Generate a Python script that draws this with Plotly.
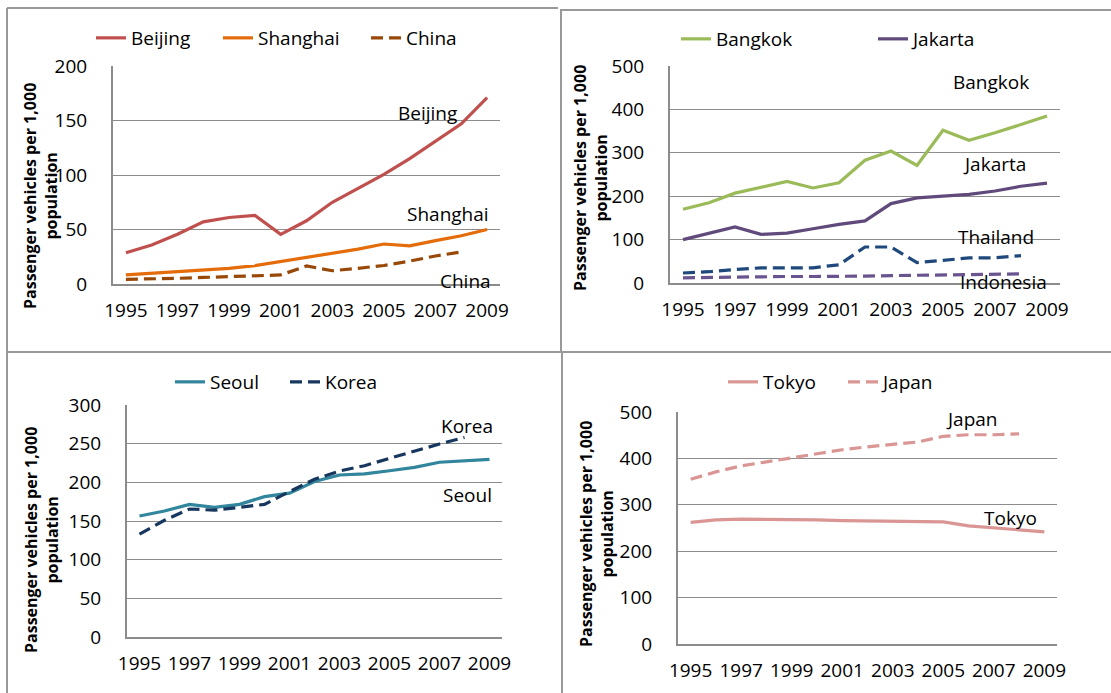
import plotly.graph_objects as go

W, H = 1111, 693

years = list(range(1995, 2010))
years_nat = list(range(1995, 2009))

beijing = [28.7, 35.8, 45.6, 57, 61, 63, 45.5, 58, 75, 88, 100.6, 115, 130.6, 147, 171]
shanghai = [8.3, 9.8, 11.3, 12.8, 14.4, 16.8, 20.5, 24, 28, 32, 36.7, 35, 39.8, 44.3, 50]
china = [4.3, 4.6, 5.2, 6, 6.7, 7.3, 8.3, 16.5, 12.2, 14.4, 17, 21, 25.7, 29.4]

bangkok = [170, 185, 207, 220, 234, 219, 231, 283, 304, 271, 352, 329, 346, 365, 385]
jakarta = [100, 114, 129, 112, 115, 125, 135, 143, 183, 196, 200, 204, 212, 223, 230]
thailand = [23, 26, 31, 35, 35, 35, 42, 83, 83, 47, 52, 58, 58, 63]
indonesia = [12, 13, 14, 15, 15, 15, 15, 16, 17, 18, 19, 20, 21, 21]

seoul = [156.5, 163, 171.5, 167.7, 171.5, 181.5, 186, 201, 209.5, 211, 215, 219.4, 226, 228, 229.7]
korea = [133, 151, 165.5, 164, 167.7, 171.5, 188, 204, 214.6, 221.5, 231, 240.5, 249.6, 258]

tokyo = [262, 267.6, 269, 269, 268, 267.6, 266, 265.4, 264.7, 264, 263, 254.7, 250, 245, 241.7]
japan = [355, 371, 384, 392, 401, 410, 418.7, 425, 429.4, 435.4, 447.6, 451, 451, 453]

x_ticks = [1995, 1997, 1999, 2001, 2003, 2005, 2007, 2009]
y_title = "Passenger vehicles per 1,000<br>population"

FONT = "Open Sans"
GRID = "#8c8c8c"


def px(x, y):
    return x / W, 1 - y / H


fig = go.Figure()

# (axis suffix, x-domain px, y-domain px (top, bottom), y max, dtick)
panels = [
    ("", (113, 500), (66, 284), 200, 50),
    ("2", (670, 1060), (66, 283), 500, 100),
    ("3", (127, 502), (405, 637), 300, 50),
    ("4", (678, 1057), (412, 644), 500, 100),
]

# series: (panel index, name, x, y, color, dash, legend id)
series = [
    (0, "Beijing", years, beijing, "#C0504D", "solid", "legend"),
    (0, "Shanghai", years, shanghai, "#E46C0A", "solid", "legend2"),
    (0, "China", years_nat, china, "#984807", "12px,6px", "legend3"),
    (1, "Bangkok", years, bangkok, "#9BBB59", "solid", "legend4"),
    (1, "Jakarta", years, jakarta, "#604A7B", "solid", "legend5"),
    (1, "Thailand", years_nat, thailand, "#1F497D", "12px,6px", None),
    (1, "Indonesia", years_nat, indonesia, "#6A5490", "12px,6px", None),
    (2, "Seoul", years, seoul, "#31859C", "solid", "legend6"),
    (2, "Korea", years_nat, korea, "#17375E", "12px,6px", "legend7"),
    (3, "Tokyo", years, tokyo, "#D99694", "solid", "legend8"),
    (3, "Japan", years_nat, japan, "#D99694", "12px,6px", "legend9"),
]

for pi, name, xs, ys, col, dash, leg in series:
    suf = panels[pi][0]
    fig.add_trace(go.Scatter(
        x=xs, y=ys, name=name, mode="lines",
        line=dict(color=col, width=3.2, dash=dash),
        xaxis="x" + suf, yaxis="y" + suf,
        showlegend=leg is not None,
        legend=leg if leg else "legend",
    ))

layout = dict(
    width=W, height=H,
    margin=dict(l=0, r=0, t=0, b=0, pad=0, autoexpand=False),
    paper_bgcolor="white", plot_bgcolor="white",
    font=dict(family=FONT, size=18, color="#000000"),
)

for suf, (x0, x1), (ytop, ybot), ymax, dt in panels:
    xd = [x0 / W, x1 / W]
    yd = [1 - ybot / H, 1 - ytop / H]
    layout["xaxis" + suf] = dict(
        domain=xd, range=[1994.5, 2009.5], tickvals=x_ticks,
        showgrid=False, zeroline=False, showline=True, linecolor=GRID, linewidth=2,
        ticks="", ticklabelstandoff=8, tickfont=dict(size=19, family=FONT),
        anchor="y" + suf, fixedrange=True,
    )
    layout["yaxis" + suf] = dict(
        domain=yd, range=[0, ymax], dtick=dt, tick0=0,
        showgrid=True, gridcolor=GRID, gridwidth=1, zeroline=False,
        showline=True, linecolor=GRID, linewidth=2,
        ticks="", ticklabelstandoff=20, tickfont=dict(size=19, family=FONT),
        anchor="x" + suf, fixedrange=True,
    )

# legends positioned per item (text-start x, center y)
legend_pos = {
    "legend": (133, 38), "legend2": (260, 38), "legend3": (408, 38),
    "legend4": (718, 39), "legend5": (915, 39),
    "legend6": (212, 382), "legend7": (327, 382),
    "legend8": (765, 382), "legend9": (885, 382),
}
for lid, (tx, ty) in legend_pos.items():
    x, y = px(tx - 42, ty)
    layout[lid] = dict(
        x=x, y=y, xanchor="left", yanchor="middle", orientation="h",
        bgcolor="rgba(0,0,0,0)", borderwidth=0,
        font=dict(size=19, family=FONT, color="#000000"),
    )

fig.update_layout(**layout)

# axis titles
for cx, cy in [(40, 196), (590, 178), (41, 540), (596, 534)]:
    x, y = px(cx, cy)
    fig.add_annotation(
        x=x, y=y, xref="paper", yref="paper", text=y_title, showarrow=False,
        textangle=-90, xanchor="center", yanchor="middle",
        font=dict(size=16, family=FONT, color="#000000", weight="bold"),
    )

# series labels inside plots
labels = [
    ("Beijing", 427, 113), ("Shanghai", 448, 214), ("China", 465, 281),
    ("Bangkok", 991, 82), ("Jakarta", 995, 164), ("Thailand", 996, 237),
    ("Indonesia", 1003, 282),
    ("Korea", 467, 426), ("Seoul", 467, 495),
    ("Japan", 972, 419), ("Tokyo", 1010, 518),
]
for txt, cx, cy in labels:
    x, y = px(cx, cy)
    fig.add_annotation(
        x=x, y=y, xref="paper", yref="paper", text=txt, showarrow=False,
        xanchor="center", yanchor="middle",
        font=dict(size=19, family=FONT, color="#000000"),
    )

# panel frame lines
frame = [
    (7, 8, 558, 8), (560, 10, 1111, 10),
    (7, 8, 7, 693), (561, 10, 561, 352), (562, 352, 562, 693),
    (7, 352, 1111, 352),
]
for xa, ya, xb, yb in frame:
    x0, y0 = px(xa, ya)
    x1, y1 = px(xb, yb)
    fig.add_shape(type="line", xref="paper", yref="paper", x0=x0, y0=y0, x1=x1, y1=y1,
                  line=dict(color="#999999", width=2))

fig.write_html(
    "out.html",
    config={"displayModeBar": False},
    post_script="document.body.style.margin='0';document.body.style.overflow='hidden';",
)
